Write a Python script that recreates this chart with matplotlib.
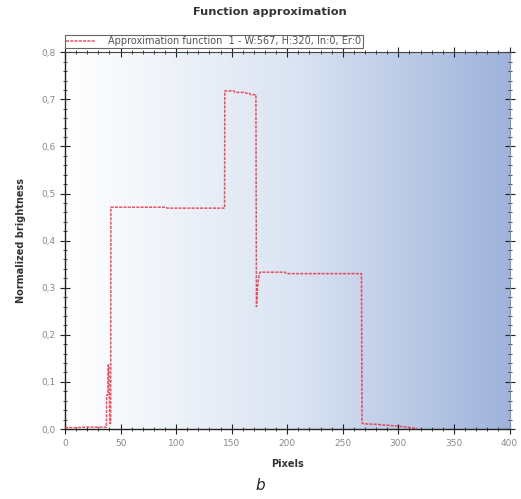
import numpy as np
import matplotlib
matplotlib.use("Agg")
import matplotlib.pyplot as plt
from matplotlib.ticker import MultipleLocator, FuncFormatter
from matplotlib.colors import LinearSegmentedColormap

# Approximated brightness profile (pixel position, normalized brightness)
pixels = [0, 10, 20, 30, 37.3, 37.5, 38.5, 38.7, 39.5, 40.3, 41.1, 41.3, 60, 80, 91,
          92, 120, 143.6, 143.8, 152, 153, 162, 163, 166, 167, 171.8, 172.3, 173.2,
          174.2, 175.5, 198, 199, 230, 266.8, 267.3, 269, 280, 290, 300, 310, 317]
brightness = [0.003, 0.003, 0.004, 0.004, 0.004, 0.072, 0.072, 0.136, 0.136, 0.012, 0.012, 0.471, 0.471, 0.471, 0.471,
              0.469, 0.469, 0.469, 0.718, 0.718, 0.715, 0.715, 0.713, 0.713, 0.710, 0.710, 0.260, 0.300,
              0.320, 0.333, 0.333, 0.330, 0.330, 0.330, 0.013, 0.011, 0.010, 0.008, 0.006, 0.003, 0.001]

legend_label = "Approximation function  1 - W:567, H:320, In:0, Er:0"
x_ticks = [0, 50, 100, 150, 200, 250, 300, 350, 400]
y_ticks = [0.0, 0.1, 0.2, 0.3, 0.4, 0.5, 0.6, 0.7, 0.8]

fig = plt.figure(figsize=(5.21, 4.99), dpi=100)
ax = fig.add_axes([65 / 521, 70 / 499, 444.5 / 521, 376.7 / 499])

# horizontal white-to-blue background gradient
grad_cmap = LinearSegmentedColormap.from_list("bg", ["#ffffff", "#dce5f3", "#9fb3db"])
ax.imshow(np.linspace(0, 1, 256)[None, :], aspect="auto", cmap=grad_cmap,
          extent=[0, 1, 0, 1], transform=ax.transAxes, zorder=0)

ax.plot(pixels, brightness, color="#e8283c", lw=1.1, alpha=0.8,
        dashes=(2.0, 0.8), label=legend_label, zorder=3)

ax.set_xlim(0, 400)
ax.set_ylim(0, 0.8)
ax.set_xticks(x_ticks)
ax.set_yticks(y_ticks)
ax.xaxis.set_minor_locator(MultipleLocator(10))
ax.yaxis.set_minor_locator(MultipleLocator(0.02))
ax.yaxis.set_major_formatter(FuncFormatter(lambda v, p: f"{v:.1f}".replace(".", ",")))
ax.tick_params(which="both", direction="inout", top=True, right=True,
               labelsize=6.5, labelcolor="#8a8a8a", color="#222222", width=0.8)
ax.tick_params(which="major", length=7)
ax.tick_params(which="minor", length=3.5, width=0.6)

for side in ["bottom", "left"]:
    ax.spines[side].set_color("#222222")
    ax.spines[side].set_linewidth(1.0)
ax.spines["top"].set_color("#444444")
ax.spines["top"].set_linewidth(0.8)
ax.spines["right"].set_color("#7f93bd")
ax.spines["right"].set_linewidth(0.8)

ax.set_xlabel("Pixels", fontsize=7, fontweight="bold", color="#333333", labelpad=8)
ax.set_ylabel("Normalized brightness", fontsize=7, fontweight="bold", color="#333333", labelpad=11)

fig.text(0.518, 0.975, "Function approximation", ha="center", va="center",
         fontsize=8.2, fontweight="bold", color="#333333")

leg = ax.legend(loc="lower left", bbox_to_anchor=(0.0, 1.012), fontsize=7.0,
                frameon=True, fancybox=False, edgecolor="#666666", framealpha=1,
                borderpad=0.15, handlelength=3.0, handletextpad=1.3, borderaxespad=0)
for t in leg.get_texts():
    t.set_color("#555555")
leg.get_frame().set_linewidth(0.8)

fig.text(0.5, 0.028, "b", ha="center", va="center", fontsize=11,
         fontstyle="italic", color="#222222")

fig.savefig("out.png", dpi=100)
